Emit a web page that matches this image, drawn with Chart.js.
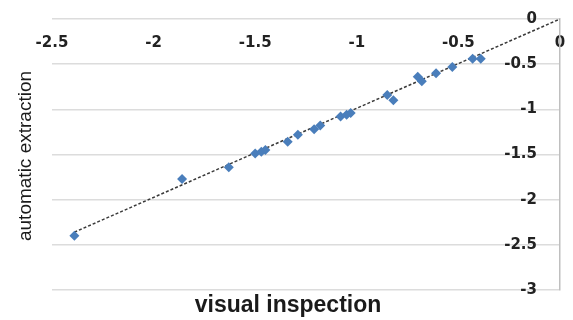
<!DOCTYPE html>
<html>
<head>
<meta charset="utf-8">
<script src="https://cdn.jsdelivr.net/npm/chart.js@4.4.0/dist/chart.umd.min.js"></script>
<style>
  body { margin: 0; background: #fff; }
</style>
</head>
<body>
<canvas id="chart" width="573" height="320"></canvas>
<script>
// values
const visualX = [-2.39, -1.86, -1.63, -1.50, -1.47, -1.45, -1.34, -1.29, -1.21, -1.18, -1.08, -1.05, -1.03, -0.85, -0.82, -0.70, -0.68, -0.61, -0.53, -0.43, -0.39];
const autoY   = [-2.40, -1.77, -1.64, -1.49, -1.47, -1.45, -1.36, -1.28, -1.22, -1.18, -1.08, -1.06, -1.04, -0.84, -0.90, -0.64, -0.69, -0.60, -0.53, -0.44, -0.44];
const trendX = [-2.39, 0];
const trendY = [-2.36, 0];
const xTicks = [-2.5, -2, -1.5, -1, -0.5, 0];
const yTicks = [0, -0.5, -1, -1.5, -2, -2.5, -3];
const xTitle = "visual inspection";
const yTitle = "automatic extraction";

const tickFont = { family: '"DejaVu Sans", sans-serif', size: 15, weight: 'bold' };

// axis titles drawn by hand, placed like in the picture
const axisTitles = {
  id: "axisTitles",
  afterDraw(chart) {
    const ctx = chart.ctx;
    ctx.save();
    ctx.fillStyle = "#1a1a1a";
    ctx.textAlign = "center";
    ctx.textBaseline = "alphabetic";
    ctx.font = 'bold 23px "Liberation Sans", Arial, sans-serif';
    ctx.fillText(xTitle, 288, 312);
    ctx.translate(31, 156);
    ctx.rotate(-Math.PI / 2);
    ctx.font = '19px "Liberation Sans", Arial, sans-serif';
    ctx.fillText(yTitle, 0, 0);
    ctx.restore();
  }
};

// axes sit on the chart edges, they should not eat layout room
function flatX(s) {
  s.height = 0;
  s.paddingLeft = 0;
  s.paddingRight = 0;
}
function flatY(s) {
  s.width = 0;
  s.paddingTop = 0;
  s.paddingBottom = 0;
}

new Chart(document.getElementById("chart"), {
  type: "scatter",
  data: {
    datasets: [
      {
        label: "points",
        data: visualX.map((x, i) => ({ x: x, y: autoY[i] })),
        pointStyle: "rectRot",
        pointRadius: 5,
        backgroundColor: "#4a7ebb",
        borderColor: "#4a7ebb",
        borderWidth: 0
      },
      {
        label: "trend",
        type: "line",
        data: trendX.map((x, i) => ({ x: x, y: trendY[i] })),
        borderColor: "#3a3a3a",
        borderWidth: 1.5,
        borderDash: [3, 2],
        pointRadius: 0,
        fill: false
      }
    ]
  },
  options: {
    responsive: false,
    animation: false,
    layout: { padding: { left: 52, right: 13, top: 19, bottom: 30 } },
    plugins: {
      legend: { display: false },
      tooltip: { enabled: false }
    },
    scales: {
      x: {
        type: "linear",
        position: "top",
        min: -2.5,
        max: 0,
        afterBuildTicks: s => { s.ticks = xTicks.map(v => ({ value: v })); },
        afterFit: flatX,
        grid: { display: false },
        border: { display: false },
        ticks: { mirror: true, padding: 15, font: tickFont, color: "#222", maxRotation: 0, callback: v => String(v) }
      },
      y: {
        type: "linear",
        position: "right",
        min: -3,
        max: 0,
        afterBuildTicks: s => { s.ticks = yTicks.map(v => ({ value: v })); },
        afterFit: flatY,
        grid: { color: "#dcdcdc", lineWidth: 1.5, drawTicks: false },
        border: { display: true, color: "#bfbfbf", width: 1.5 },
        ticks: { mirror: true, padding: -23, font: tickFont, color: "#222", callback: v => String(v) }
      }
    }
  },
  plugins: [axisTitles]
});
</script>
</body>
</html>
